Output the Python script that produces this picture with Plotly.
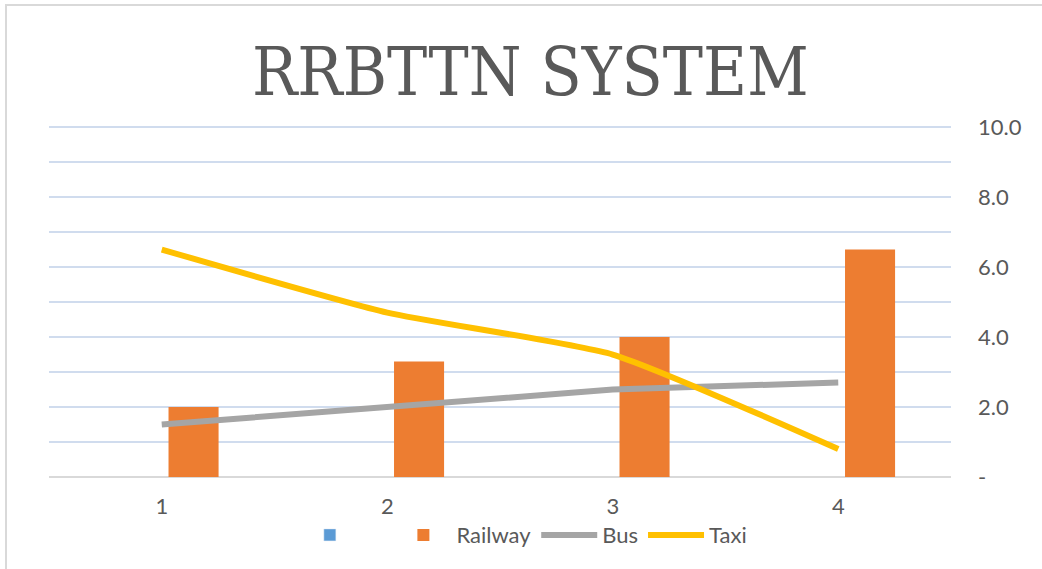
import plotly.graph_objects as go

categories = ["1", "2", "3", "4"]
blank_series = [None, None, None, None]
railway = [2.0, 3.3, 4.0, 6.5]
bus = [1.5, 2.0, 2.5, 2.7]
taxi = [6.5, 4.7, 3.5, 0.8]
y_tickvals = [0, 1, 2, 3, 4, 5, 6, 7, 8, 9, 10]
y_ticktext = ["-", "", "2.0", "", "4.0", "", "6.0", "", "8.0", "", "10.0"]

TEXT = "#595959"
FONT = "Lato"

fig = go.Figure()
fig.add_trace(go.Bar(x=categories, y=blank_series, name="&nbsp;&nbsp;&nbsp;&nbsp;", marker_color="#5B9BD5",
                     width=0.222, offset=-0.25))
fig.add_trace(go.Bar(x=categories, y=railway, name="Railway", marker_color="#ED7D31",
                     marker_line_width=0, width=0.222, offset=0.03))
fig.add_trace(go.Scatter(x=categories, y=bus, name="Bus", mode="lines",
                         line=dict(color="#A5A5A5", width=6)))
fig.add_trace(go.Scatter(x=categories, y=taxi, name="Taxi", mode="lines",
                         line=dict(color="#FFC000", width=6, shape="spline", smoothing=0.5)))

fig.update_layout(
    width=1042, height=569,
    margin=dict(l=49, r=91, t=125, b=92),
    paper_bgcolor="white", plot_bgcolor="white",
    title=dict(text="RRBTTN SYSTEM", x=0.509, xref="container", xanchor="center",
               y=1 - 72 / 569, yref="container", yanchor="middle",
               font=dict(family="DejaVu Serif Condensed", size=67, color=TEXT)),
    font=dict(family=FONT, size=22, color=TEXT),
    showlegend=True,
    legend=dict(orientation="h", x=0.527, xanchor="center", y=-0.165, yanchor="middle",
                itemwidth=56, font=dict(family=FONT, size=22, color=TEXT), traceorder="normal",
                bgcolor="rgba(0,0,0,0)"),
    xaxis=dict(type="category", range=[-0.5, 3.5], showgrid=False, showline=False,
               ticks="", ticklabelstandoff=14, tickfont=dict(size=22, color=TEXT)),
    yaxis=dict(side="right", range=[0, 10.06], tickvals=y_tickvals, ticktext=y_ticktext,
               showgrid=True, gridcolor="#D0DCEE", gridwidth=2,
               zeroline=True, zerolinecolor="#D9D9D9", zerolinewidth=2,
               showline=False, ticks="", ticklabelstandoff=26,
               tickfont=dict(size=22, color=TEXT)),
    shapes=[dict(type="rect", xref="paper", yref="paper",
                 x0=-43 / 902, x1=1.2, y0=-0.3, y1=1 + 120 / 352,
                 line=dict(color="#D9D9D9", width=2), fillcolor="rgba(0,0,0,0)",
                 layer="below")],
)

fig.write_html("out.html")
